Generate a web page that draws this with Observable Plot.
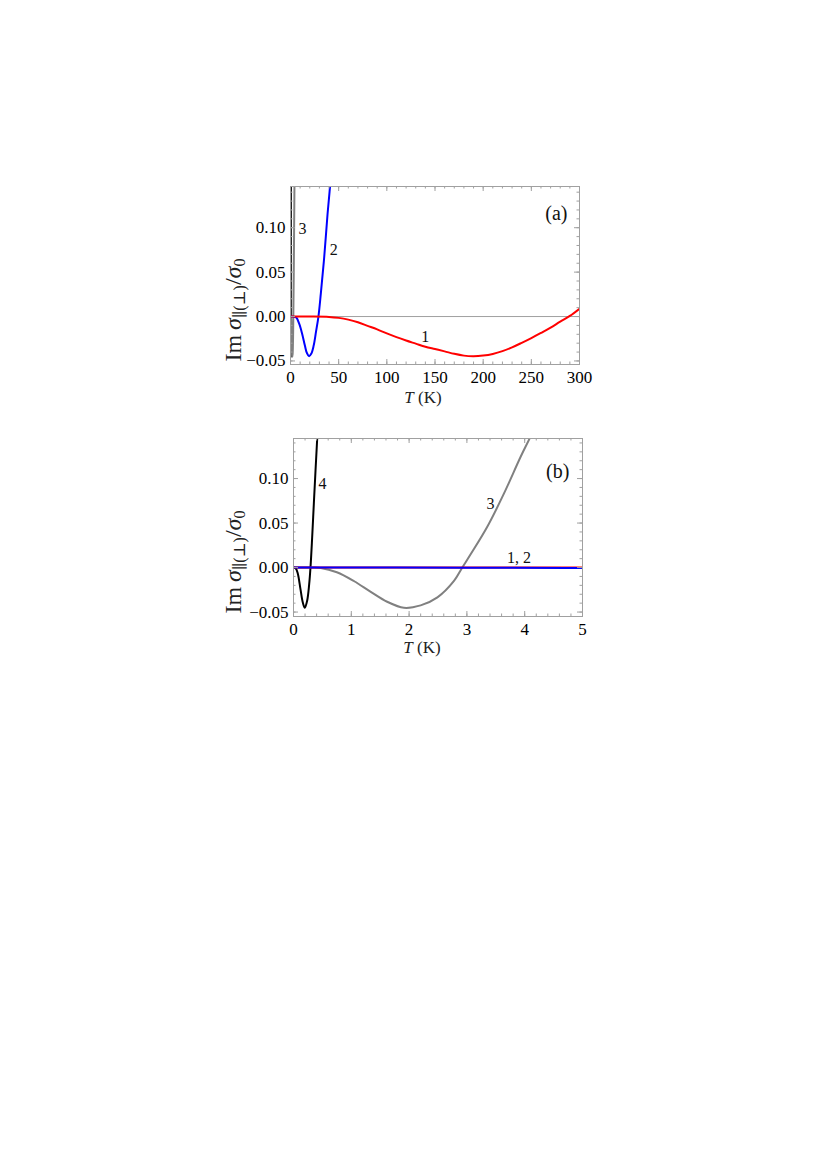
<!DOCTYPE html>
<html><head><meta charset="utf-8">
<script src="https://cdn.jsdelivr.net/npm/d3@7"></script>
<script src="https://cdn.jsdelivr.net/npm/@observablehq/plot@0.6"></script>
<style>
html,body{margin:0;padding:0;background:#fff;width:827px;height:1170px;overflow:hidden}
.panel{position:absolute;left:200px}
#pa{top:170px}#pb{top:420px}
svg{overflow:visible}
</style></head><body>
<div id="pa" class="panel"></div><div id="pb" class="panel"></div>
<script>
// Curve 1 (red)
const curve1T = [0, 20, 40, 50, 60, 70, 80, 90, 100, 110, 120, 130, 140, 150, 160, 170, 180, 190, 200, 210, 220, 230, 240, 250, 260, 270, 280, 290, 300];
const curve1V = [0, 0, -0.0004, -0.0015, -0.0035, -0.0065, -0.0105, -0.0145, -0.019, -0.0232, -0.027, -0.0305, -0.034, -0.0366, -0.0392, -0.042, -0.044, -0.0446, -0.0439, -0.0421, -0.039, -0.0347, -0.0296, -0.0242, -0.0185, -0.0125, -0.0057, 0.0007, 0.0088];
// Curve 2 (blue)
const curve2T = [0, 3, 6, 9, 12, 15, 17, 19.3, 21.5, 24, 26.5, 29, 31.5, 35, 38.5, 41, 43];
const curve2V = [0, -0.0001, -0.0012, -0.008, -0.019, -0.033, -0.041, -0.0446, -0.042, -0.033, -0.017, 0, 0.026, 0.067, 0.116, 0.146, 0.172];
// Curve 3 (gray)
const curve3T = [0, 0.3, 0.47, 0.75, 1.05, 1.33, 1.62, 1.91, 2.2, 2.49, 2.78, 2.92, 3.07, 3.35, 3.64, 3.93, 4.1, 4.3];
const curve3V = [0, 0, -0.0004, -0.0053, -0.0154, -0.027, -0.0384, -0.0452, -0.0425, -0.0335, -0.0147, 0, 0.0154, 0.0455, 0.083, 0.1245, 0.147, 0.175];
// Curve 4 (black)
const curve4T = [0, 0.04, 0.075, 0.12, 0.16, 0.196, 0.237, 0.271, 0.294, 0.323, 0.352, 0.381, 0.41, 0.43];
const curve4V = [0, -0.001, -0.007, -0.024, -0.039, -0.0452, -0.037, -0.019, 0, 0.034, 0.072, 0.109, 0.145, 0.17];

// Ticks
const xTicksA = [0, 50, 100, 150, 200, 250, 300];
const xTicksB = [0, 1, 2, 3, 4, 5];
const yTicks = [-0.05, 0, 0.05, 0.10];

// Curve labels
const labelsA = [{T: 12.4, v: 0.099, t: "3"}, {T: 45, v: 0.0745, t: "2"}, {T: 140, v: -0.023, t: "1"}];
const labelsB = [{T: 0.5, v: 0.094, t: "4"}, {T: 3.41, v: 0.072, t: "3"}, {T: 3.9, v: 0.0105, t: "1, 2"}];
const tagA = [{T: 276, v: 0.116, t: "(a)"}];
const tagB = [{T: 4.57, v: 0.1075, t: "(b)"}];

const rows = (T, V) => T.map((t, i) => ({T: t, v: V[i]}));
const c1 = rows(curve1T, curve1V), c2 = rows(curve2T, curve2V), c3 = rows(curve3T, curve3V), c4 = rows(curve4T, curve4V);

const FONT = "'Liberation Serif', 'DejaVu Serif', serif";
const FR = "#a0a0a0";

function minorRange(a, b, step) {
  const out = []; const n = Math.round((b - a) / step);
  for (let i = 0; i <= n; i++) out.push(+(a + i * step).toFixed(6));
  return out;
}

function panel({el, xDomain, yDomain, W, H, ml, mr, mt, mb, xTicks, xMinorStep, curves, labels, tag, xLabel, yLabel}) {
  const fw = W - ml - mr, fh = H - mt - mb;
  const xMinor = minorRange(xDomain[0], xDomain[1], xMinorStep);
  const yMinor = minorRange(-0.05, 0.14, 0.01);
  const MAJ = 5, MIN = 2.5;
  const lineMarks = curves.map(([data, color]) =>
    Plot.line(data, {x: "T", y: "v", stroke: color, strokeWidth: 2, curve: "catmull-rom", clip: true}));
  const chart = Plot.plot({
    width: W, height: H, marginLeft: ml, marginRight: mr, marginTop: mt, marginBottom: mb,
    style: {fontFamily: FONT, fontSize: "17px", background: "transparent", color: "#000"},
    x: {domain: xDomain, ticks: xTicks, tickSize: 0, tickPadding: 6, tickFormat: d => String(d), label: null},
    y: {domain: yDomain, ticks: yTicks, tickSize: 0, tickPadding: 5, tickFormat: d3.format(".2f"), label: null},
    marks: [
      Plot.ruleY([0], {stroke: "#a0a0a0", strokeWidth: 1}),
      ...lineMarks,
      Plot.frame({stroke: FR, strokeWidth: 1}),
      Plot.ruleX(xTicks, {stroke: FR, insetTop: fh - MAJ}),
      Plot.ruleX(xTicks, {stroke: FR, insetBottom: fh - MAJ}),
      Plot.ruleX(xMinor, {stroke: FR, insetTop: fh - MIN}),
      Plot.ruleX(xMinor, {stroke: FR, insetBottom: fh - MIN}),
      Plot.ruleY(yTicks, {stroke: FR, insetRight: fw - MAJ}),
      Plot.ruleY(yTicks, {stroke: FR, insetLeft: fw - MAJ}),
      Plot.ruleY(yMinor, {stroke: FR, insetRight: fw - MIN}),
      Plot.ruleY(yMinor, {stroke: FR, insetLeft: fw - MIN}),
      Plot.text(labels, {x: "T", y: "v", text: "t", fontSize: 16, fill: "#111"}),
      Plot.text(tag, {x: "T", y: "v", text: "t", fontSize: 20, fill: "#111"})
    ]
  });
  const svg = d3.select(chart);
  // x-axis label: italic T (K)
  const xl = svg.append("text").attr("x", xLabel[0]).attr("y", xLabel[1])
    .attr("text-anchor", "middle").attr("font-family", FONT).attr("font-size", 17).attr("fill", "#222");
  xl.append("tspan").attr("font-style", "italic").text("T");
  xl.append("tspan").text(" (K)");
  // y-axis label
  const yl = svg.append("text").attr("transform", `translate(${yLabel[0]},${yLabel[1]}) rotate(-90)`)
    .attr("text-anchor", "middle").attr("dominant-baseline", "middle").attr("font-family", FONT).attr("font-size", 24).attr("fill", "#222");
  yl.append("tspan").text("Im\u2009");
  yl.append("tspan").attr("font-style", "italic").text("σ");
  yl.append("tspan").attr("font-size", 16).attr("dy", 6).text("∥(⊥)");
  yl.append("tspan").attr("dy", -6).text("/");
  yl.append("tspan").attr("font-style", "italic").text("σ");
  yl.append("tspan").attr("font-size", 16).attr("dy", 6).text("0");
  document.getElementById(el).appendChild(chart);
}

panel({
  el: "pa", xDomain: [0, 300], yDomain: [-0.054, 0.1464],
  W: 400, H: 240, ml: 90, mr: 21, mt: 16, mb: 46,
  xTicks: xTicksA, xMinorStep: 10,
  curves: [[c4, "#000"], [c3, "#808080"], [c2, "#0000ff"], [c1, "#ff0000"]],
  labels: labelsA, tag: tagA, xLabel: [223, 233], yLabel: [35, 140]
});
panel({
  el: "pb", xDomain: [0, 5], yDomain: [-0.055, 0.145],
  W: 402, H: 240, ml: 93, mr: 20, mt: 18, mb: 44,
  xTicks: xTicksB, xMinorStep: 0.2,
  curves: [[c3, "#808080"], [c4, "#000"], [c1, "#ff0000"], [c2, "#0000ff"]],
  labels: labelsB, tag: tagB, xLabel: [222, 233], yLabel: [35, 142]
});
</script>
</body></html>
